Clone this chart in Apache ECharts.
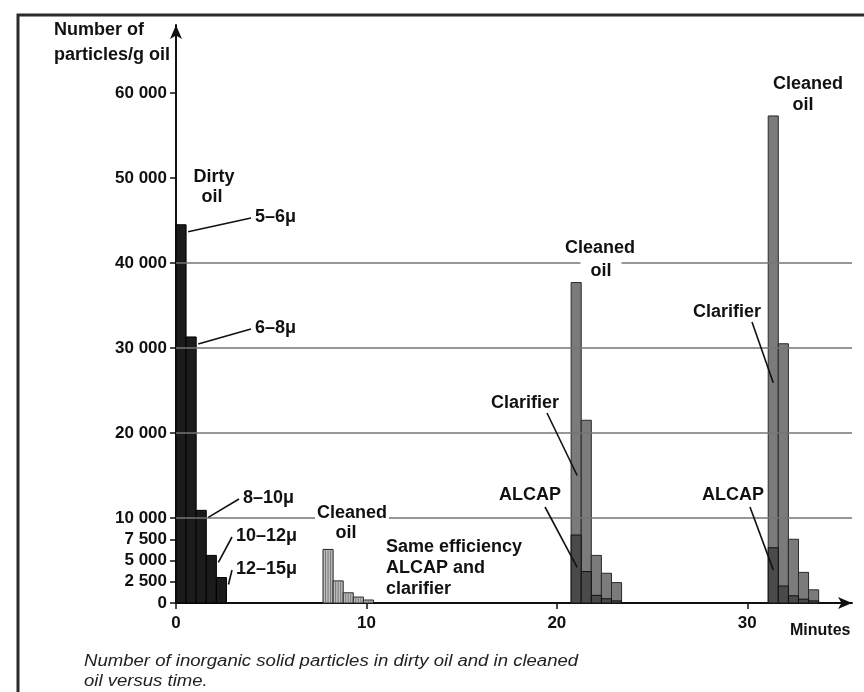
<!DOCTYPE html>
<html><head><meta charset="utf-8">
<script src="https://cdn.jsdelivr.net/npm/echarts@6/dist/echarts.min.js"></script>
<style>html,body{margin:0;padding:0;background:#fff}#c{width:864px;height:692px}</style>
</head><body><div id="c"></div>
<script>
// ---- data (minutes on x, particles per gram of oil on y) ----
const sizeClasses = ['5–6μ', '6–8μ', '8–10μ', '10–12μ', '12–15μ'];
const groupStart = [0, 7.72, 20.75, 31.1];   // start time of each measurement group (min)
const classSpan = 0.53;                       // time span drawn per size class (min)
const dirtyOil = [44500, 31300, 10900, 5600, 3000];
const cleanedSame = [6300, 2600, 1200, 700, 350];
const clarifier20 = [37700, 21500, 5600, 3500, 2400];
const alcap20 = [8000, 3700, 900, 500, 250];
const clarifier30 = [57300, 30500, 7500, 3600, 1550];
const alcap30 = [6500, 2000, 850, 450, 250];
const yTicks = [0, 2500, 5000, 7500, 10000, 20000, 30000, 40000, 50000, 60000];
const xTicks = [0, 10, 20, 30];
const gridValues = [10000, 20000, 30000, 40000];

const FONT = '"Liberation Sans", Arial, Helvetica, sans-serif';
const BOLD = 'bold 18px ' + FONT;

function rows(start, vals) {
  return vals.map((v, i) => [start + i * classSpan, start + (i + 1) * classSpan, v]);
}
function barItem(fill, stroke, stripes) {
  return function (params, api) {
    const p0 = api.coord([api.value(0), api.value(2)]);
    const p1 = api.coord([api.value(1), 0]);
    const x = p0[0], y = p0[1], w = p1[0] - p0[0], h = p1[1] - p0[1];
    const children = [{ type: 'rect', shape: { x: x, y: y, width: w, height: h },
      style: { fill: fill, stroke: stroke, lineWidth: 1 } }];
    if (stripes) {
      for (let k = 1; k < 4; k++) {
        children.push({ type: 'line', shape: { x1: x + w * k / 4, y1: y + 1, x2: x + w * k / 4, y2: y + h },
          style: { stroke: '#666', lineWidth: 0.8 } });
      }
    }
    return { type: 'group', children: children };
  };
}
function fmt(v) { return String(v).replace(/\B(?=(\d{3})+(?!\d))/g, ' '); }

const chart = echarts.init(document.getElementById('c'), null, { renderer: 'canvas' });
chart.setOption({
  animation: false,
  backgroundColor: '#fff',
  grid: { left: 176, right: 12, top: 25, bottom: 89, containLabel: false, outerBoundsMode: 'none' },
  xAxis: {
    type: 'value', min: 0, max: 35.5, interval: 10,
    axisLine: { show: true, symbol: ['none', 'arrow'], symbolSize: [9, 14], lineStyle: { color: '#111', width: 2 } },
    axisTick: { show: true, length: 6, customValues: xTicks, lineStyle: { color: '#111', width: 1.5 } },
    axisLabel: { customValues: xTicks, fontSize: 17, fontWeight: 'bold', fontFamily: FONT, color: '#111', margin: 12 },
    splitLine: { show: false }
  },
  yAxis: {
    type: 'value', min: 0, max: 68000,
    axisLine: { show: true, symbol: ['none', 'arrow'], symbolSize: [9, 14], lineStyle: { color: '#111', width: 2 } },
    axisTick: { show: true, length: 6, customValues: yTicks, lineStyle: { color: '#111', width: 1.5 } },
    axisLabel: { customValues: yTicks, formatter: fmt, fontSize: 17, fontWeight: 'bold', fontFamily: FONT, color: '#111', margin: 9 },
    splitLine: { show: false }
  },
  series: [
    { type: 'custom', name: 'Dirty oil', renderItem: barItem('#1b1b1b', '#000', false),
      encode: { x: [0, 1], y: 2 }, data: rows(groupStart[0], dirtyOil),
      markLine: { silent: true, symbol: 'none', label: { show: false }, z: 5,
        lineStyle: { color: '#747474', width: 1.5, type: 'solid' },
        data: gridValues.map(v => ({ yAxis: v })) } },
    { type: 'custom', name: 'Cleaned oil', renderItem: barItem('#bdbdbd', '#222', true),
      encode: { x: [0, 1], y: 2 }, data: rows(groupStart[1], cleanedSame) },
    { type: 'custom', name: 'Clarifier', renderItem: barItem('#7b7b7b', '#2a2a2a', false),
      encode: { x: [0, 1], y: 2 }, data: rows(groupStart[2], clarifier20).concat(rows(groupStart[3], clarifier30)) },
    { type: 'custom', name: 'ALCAP', renderItem: barItem('#4a4a4a', '#111', false),
      encode: { x: [0, 1], y: 2 }, data: rows(groupStart[2], alcap20).concat(rows(groupStart[3], alcap30)) }
  ]
});

function px(x, y) { return chart.convertToPixel({ gridIndex: 0 }, [x, y]); }
function txt(text, x, y, align, extra) {
  const st = Object.assign({ text: text, x: x, y: y, font: BOLD, fill: '#111',
    align: align || 'center', verticalAlign: 'middle' }, extra || {});
  return { type: 'text', z: 50, style: st };
}
function lead(x1, y1, p, dx, dy) {
  return { type: 'line', z: 49, shape: { x1: x1, y1: y1, x2: p[0] + (dx || 0), y2: p[1] + (dy || 0) },
    style: { stroke: '#111', lineWidth: 1.6 } };
}

const g = [];
// frame
g.push({ type: 'rect', z: 1, shape: { x: 18, y: 15, width: 900, height: 700 },
  style: { fill: 'none', stroke: '#2b2b2b', lineWidth: 3 } });
// axis titles
g.push({ type: 'text', z: 50, style: { text: 'Number of\nparticles/g oil', x: 54, y: 18, font: BOLD,
  fill: '#111', lineHeight: 25, align: 'left', verticalAlign: 'top' } });
g.push(txt('Minutes', 790, 631, 'left', { font: 'bold 16px ' + FONT }));
// caption
g.push({ type: 'text', z: 50, x: 84, y: 652, scaleX: 1.16,
  style: { text: 'Number of inorganic solid particles in dirty oil and in cleaned\noil versus time.',
  x: 0, y: 0, font: 'italic 16px ' + FONT, fill: '#222', lineHeight: 20, align: 'left', verticalAlign: 'top' } });

// dirty oil
g.push(txt('Dirty', 214, 177));
g.push(txt('oil', 212, 197));
const classLabelPos = [[255, 217], [255, 328], [243, 498], [236, 536], [236, 569]];
sizeClasses.forEach((s, i) => {
  const lp = classLabelPos[i];
  g.push(txt(s, lp[0], lp[1], 'left'));
  g.push(lead(lp[0] - 4, lp[1] + 1, px(groupStart[0] + (i + 1) * classSpan, dirtyOil[i]), 2, 7));
});

// cleaned oil, same efficiency
g.push(txt('Cleaned', 352, 513, 'center', { backgroundColor: '#fff', padding: [1, 2] }));
g.push(txt('oil', 346, 533));
g.push({ type: 'text', z: 50, style: { text: 'Same efficiency\nALCAP and\nclarifier', x: 386, y: 537,
  font: BOLD, fill: '#111', lineHeight: 21, align: 'left', verticalAlign: 'top' } });

// 20 min group
g.push(txt('Cleaned', 600, 248));
g.push(txt('oil', 601, 271, 'center', { backgroundColor: '#fff', padding: [2, 10] }));
g.push(txt('Clarifier', 525, 403));
g.push(lead(547, 413, px(groupStart[2] + classSpan * 0.6, 15000)));
g.push(txt('ALCAP', 530, 495));
g.push(lead(545, 507, px(groupStart[2] + classSpan * 0.6, 4200)));

// 30 min group
g.push(txt('Cleaned', 808, 84));
g.push(txt('oil', 803, 105));
g.push(txt('Clarifier', 727, 312));
g.push(lead(752, 322, px(groupStart[3] + classSpan * 0.5, 25900)));
g.push(txt('ALCAP', 733, 495));
g.push(lead(750, 507, px(groupStart[3] + classSpan * 0.5, 3900)));

chart.setOption({ graphic: { elements: g } });
</script>
</body></html>
